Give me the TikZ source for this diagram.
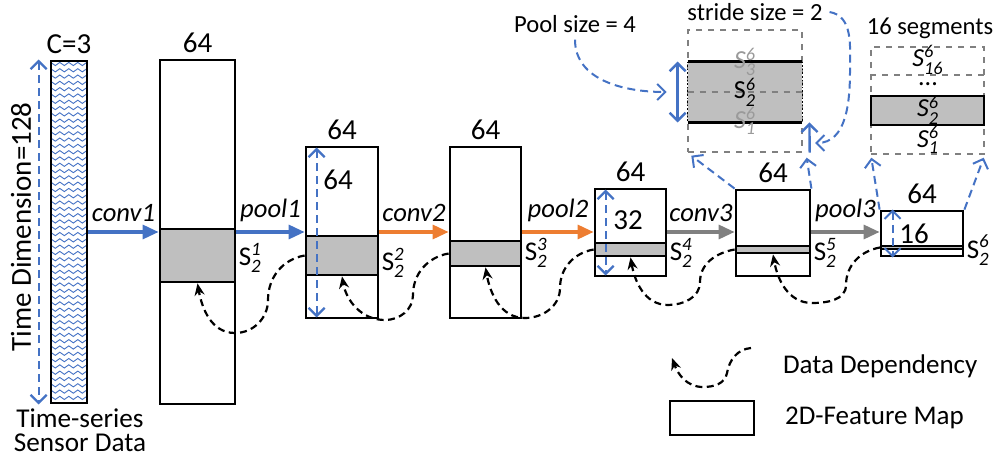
\documentclass[tikz,border=0pt]{standalone}
\usepackage{amsmath}
\usepackage{fontspec}
\setmainfont{Carlito}
\usepackage{tikz}
\usetikzlibrary{arrows.meta,fit,decorations.pathmorphing}
\definecolor{blu}{HTML}{4472C4}
\definecolor{ora}{HTML}{ED7D31}
\definecolor{gry}{HTML}{808080}
\definecolor{bandgray}{HTML}{BFBFBF}
\definecolor{lightlbl}{HTML}{9A9A9A}
\newcommand{\segS}[2]{S$_{\textit{#1}}^{\textit{#2}}$}
\newcommand{\segSi}[2]{\textit{S}$_{\textit{#1}}^{\textit{#2}}$}

\begin{document}
\begin{tikzpicture}[
  x=0.5pt, y=-0.5pt,
  font=\fontsize{13.5}{16}\selectfont,
  big/.style={font=\fontsize{14.5}{17}\selectfont},
  note/.style={font=\fontsize{12.3}{15}\selectfont},
  seglbl/.style={inner sep=0pt, font=\fontsize{13}{15}\selectfont},
  fmap/.style={draw, line width=1.4pt, inner sep=0pt, fill=white},
  band/.style={draw, line width=1.4pt, inner sep=0pt, fill=bandgray},
  segbox/.style={draw=gry, dashed, line width=0.7pt, inner sep=0pt},
  flow/.style={line width=1.6pt, -{Triangle[length=8pt, width=7pt]}},
  lbl/.style={font=\fontsize{13.3}{16}\selectfont\itshape, text=black, above=1pt},
  dep/.style={line width=1.1pt, dash pattern=on 3.5pt off 2.2pt,
    -{Stealth[length=6pt, width=5pt]}},
  bdash/.style={blu, line width=1pt, dash pattern=on 4pt off 2.5pt,
    -{Straight Barb[length=4pt, width=8pt]}},
  dim/.style={blu, line width=1.1pt, dash pattern=on 4pt off 2.5pt,
    {Straight Barb[length=4pt, width=8pt]}-{Straight Barb[length=4pt, width=8pt]}},
  sdim/.style={blu, line width=1.2pt,
    {Straight Barb[length=4pt, width=8pt]}-{Straight Barb[length=4pt, width=8pt]}}
]
  \useasboundingbox (0,0) rectangle (1000,459);

  \begin{scope}
    \clip (51,61) rectangle (87,403);
    \foreach \y in {64,70.3,...,402} {
      \draw[blu, line width=0.45pt, decorate,
        decoration={snake, segment length=4.5pt, amplitude=0.8pt}] (48,\y) -- (92,\y);
    }
  \end{scope}
  \node[fmap, fill=none, fit={(51,61) (87,403)}] (in) {};
  \node[above, big, inner sep=2.5pt] (cap) at (in.north) {C=3};
  \draw[dim] ([xshift=-5.5pt]in.north west) -- ([xshift=-5.5pt]in.south west);
  \node[rotate=90, big] (tdim) at (21,227) {Time Dimension=128};
  \node[align=center, font=\fontsize{13.6}{12}\selectfont] (src) at (80,430)
    {Time-series\\Sensor Data};

  \foreach \n/\l/\t/\r/\b/\gt/\gb/\s/\sy in {
      1/160/60/235/404/229/282/1/258,
      2/306/147/378/318/236/275/2/263,
      3/450/147/521/318/241/266/3/253,
      4/595/189/666/276/243/256/4/253,
      5/736/190/810/276/246/253/5/253} {
    \node[fmap, fit={(\l,\t) (\r,\b)}] (b\n) {};
    \node[band, fit={(\l,\gt) (\r,\gb)}] (g\n) {};
    \node[above, big, inner sep=2.5pt] (t\n) at (b\n.north) {64};
    \node[right, inner sep=1pt] (s\n) at (b\n.east |- 0,\sy) {\segS{2}{\s}};
  }
  \node[fmap, fit={(881,211) (963,256)}] (b6) {};
  \node[band, line width=1pt, fit={(881,246) (963,249)}] (g6) {};
  \node[above, big, inner sep=2.5pt] (t6) at (b6.north) {64};
  \node[right, inner sep=1pt] (s6) at (b6.east |- 0,250) {\segS{2}{6}};

  \node[big] (i2) at (338,180) {64};
  \node[big] (i4) at (628,220) {32};
  \node[big] (i6) at (914,234) {16};
  \draw[dim, shorten <=1pt, shorten >=1pt] ([xshift=6pt]b2.north west) -- ([xshift=6pt]b2.south west);
  \draw[dim, shorten <=1pt, shorten >=1pt] ([xshift=6pt]b4.north west) -- ([xshift=6pt]b4.south west);
  \draw[dim, line width=0.9pt] ([xshift=6.5pt]b6.north west) -- ([xshift=6.5pt]b6.south west);

  \foreach \a/\b/\c/\t in {in/b1/blu/conv1, b1/b2/blu/pool1, b2/b3/ora/conv2,
      b3/b4/ora/pool2, b4/b5/gry/conv3, b5/b6/gry/pool3} {
    \draw[flow, \c] (\a.east |- 0,232) -- (\b.west |- 0,232)
      node[midway, lbl] {\t};
  }

  \foreach \a/\b/\px/\py/\qx/\qy in {g2/g1/268/300/235/333, g3/g2/413/295/385/320,
      g4/g3/560/288/525/318, g5/g4/700/282/668/305, g6/g5/846/285/812/303} {
    \draw[dep] (\a.west) to[out=190, in=90] (\px,\py) to[out=-90, in=0] (\qx,\qy)
      to[out=180, in=-80] (\b.south);
  }

  \node[segbox, fit={(688,30) (802,152)}] (pb) {};
  \node[inner sep=0pt, fill=bandgray, fit={(688,62) (802,122)}] (pg) {};
  \draw[line width=1.4pt] (pg.north west) -- (pg.north east) (pg.south west) -- (pg.south east);
  \draw[densely dotted, line width=0.8pt] (pg.north west) -- (pg.south west) (pg.north east) -- (pg.south east);
  \draw[gry, dashed, line width=0.7pt] (pg.west) -- (pg.east);
  \node[seglbl, lightlbl] (p3) at (745,62) {\segSi{3}{6}};
  \node[seglbl] (p2) at (745,92) {\segS{2}{6}};
  \node[seglbl, lightlbl] (p1) at (745,121) {\segSi{1}{6}};
  \draw[sdim] ([xshift=-5pt]pg.north west) -- ([xshift=-5pt]pg.south west);
  \draw[blu, line width=1.2pt, -{Straight Barb[length=4pt, width=8pt]}]
    ([xshift=3.5pt]pb.south east) -- ([xshift=3.5pt]pg.south east);
  \draw[bdash] (b5.north west) -- ([shift={(2pt,-1.5pt)}]pb.south west);
  \draw[bdash] (b5.north east) -- ([shift={(2pt,-2.5pt)}]pb.south east);

  \node[note] (psz) at (575,24) {Pool size = 4};
  \node[note] (ssz) at (755,12) {stride size = 2};
  \coordinate (stTip) at (815,143);
  \draw[bdash] (psz.south) to[out=-90, in=180] ([xshift=-10.5pt]pg.west);
  \draw[bdash] (ssz.east) to[out=-10, in=90] (850,70) to[out=-90, in=0] (stTip);

  \node[segbox, fit={(871,47) (984,154)}] (sb) {};
  \draw[gry, dashed, line width=0.7pt] (sb.west |- 0,75) -- (sb.east |- 0,75);
  \node[band, fit={(871,96) (984,125)}] (sg) {};
  \node[note] (nseg) at (930,28) {16 segments};
  \node[seglbl] (q16) at (928,60) {\segSi{16}{6}};
  \node[seglbl] (qdots) at (928,84) {...};
  \node[seglbl] (q2) at (928,110) {\segSi{2}{6}};
  \node[seglbl] (q1) at (928,140) {\segSi{1}{6}};
  \draw[bdash] (b6.north west) -- ([shift={(0.5pt,-1.5pt)}]sb.south west);
  \draw[bdash] (b6.north east) -- ([shift={(-0.5pt,-1.5pt)}]sb.south east);

  \coordinate (lA) at (751,348);
  \coordinate (lB) at (672,358);
  \draw[dep] (lA) to[out=185, in=80] (727,373) to[out=-100, in=0] (703,387)
    to[out=180, in=-70] (lB);
  \node[right] (ldep) at (776,366) {Data Dependency};
  \node[fmap, fit={(670,401) (754,435)}] (lg) {};
  \node[right] (lmap) at (778,418) {2D-Feature Map};
\end{tikzpicture}
\end{document}
